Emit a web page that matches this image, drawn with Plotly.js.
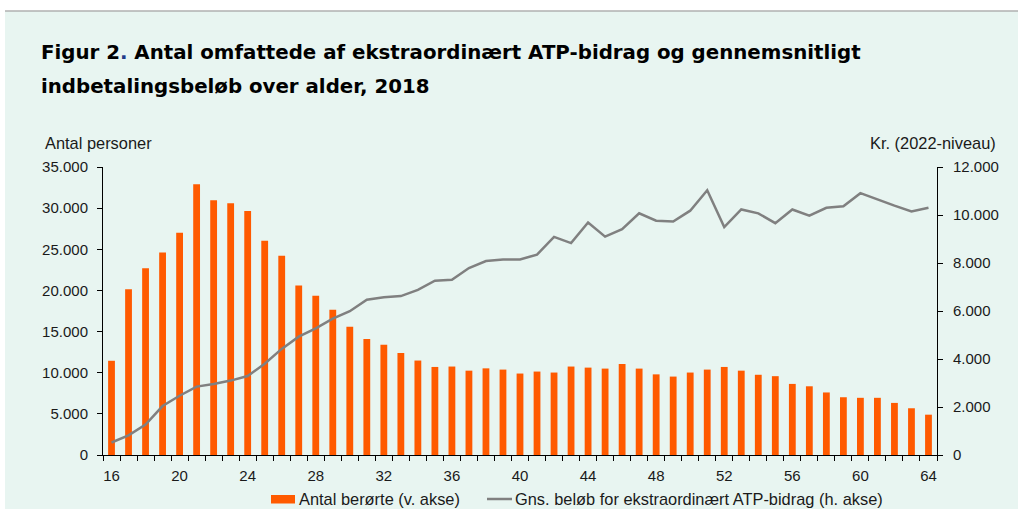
<!DOCTYPE html>
<html><head><meta charset="utf-8">
<script src="https://cdn.plot.ly/plotly-3.0.1.min.js"></script>
<style>body{margin:0;padding:0;background:#fff}#chart{width:1018px;height:509px}</style>
</head><body><div id="chart"></div>
<script>
const ages = [16,17,18,19,20,21,22,23,24,25,26,27,28,29,30,31,32,33,34,35,36,37,38,39,40,41,42,43,44,45,46,47,48,49,50,51,52,53,54,55,56,57,58,59,60,61,62,63,64];
const antalBeroerte = [11450,20150,22700,24600,27000,32900,30950,30600,29650,26050,24200,20600,19350,17650,15600,14100,13400,12400,11480,10700,10750,10250,10530,10380,9900,10140,10020,10750,10620,10500,11060,10500,9800,9530,10020,10380,10700,10250,9750,9580,8640,8350,7600,7020,6950,6950,6330,5680,4900];
const gnsBeloeb = [520,820,1270,2040,2470,2850,2960,3100,3290,3800,4420,4930,5280,5680,5990,6470,6570,6620,6880,7260,7300,7790,8080,8150,8150,8350,9090,8830,9690,9100,9410,10070,9760,9730,10180,11030,9500,10230,10070,9660,10230,9970,10300,10360,10910,10640,10390,10150,10300];
const xTicks = [16,20,24,28,32,36,40,44,48,52,56,60,64];
const leftTicks = [0,5000,10000,15000,20000,25000,30000,35000];
const rightTicks = [0,2000,4000,6000,8000,10000,12000];
const seriesNames = ['Antal berørte (v. akse)', 'Gns. beløb for ekstraordinært ATP-bidrag (h. akse)'];

const W=1018,H=509,L=103,R=81,T=167,B=54;
const pw=W-L-R, ph=H-T-B;
const px = x => (x-L)/pw;
const py = y => (H-B-y)/ph;
const font = 'Liberation Sans, Arial, sans-serif';
const orange = '#FF5A00', gray = '#808080';

const traces = [
  {type:'bar', x:ages, y:antalBeroerte, name:seriesNames[0], marker:{color:orange}, width:0.4, yaxis:'y', showlegend:false},
  {type:'scatter', mode:'lines', x:ages, y:gnsBeloeb, name:seriesNames[1], line:{color:gray, width:2.5}, yaxis:'y2', showlegend:false}
];

const layout = {
  width:W, height:H,
  margin:{l:L,r:R,t:T,b:B,pad:0,autoexpand:false},
  paper_bgcolor:'#ffffff', plot_bgcolor:'rgba(0,0,0,0)',
  separators:',.',
  font:{family:font, size:15, color:'#1a1a1a'},
  showlegend:false,
  xaxis:{range:[15.5,64.5], tickmode:'array', tickvals:xTicks, ticks:'', showgrid:false, zeroline:false,
         showline:true, linecolor:'#000', linewidth:1, tickfont:{size:15}, ticklabelstandoff:7,
         minor:{tickmode:'linear', tick0:15.5, dtick:1, ticks:'outside', ticklen:5, tickcolor:'#000', tickwidth:1, showgrid:false}},
  yaxis:{range:[0,35000], tickmode:'array', tickvals:leftTicks, tickformat:',.0f', ticks:'outside', ticklen:5, tickcolor:'#000',
         showgrid:false, zeroline:false, showline:true, linecolor:'#000', linewidth:1, tickfont:{size:15}, ticklabelstandoff:6},
  yaxis2:{range:[0,12000], overlaying:'y', side:'right', tickmode:'array', tickvals:rightTicks, tickformat:',.0f', ticks:'outside', ticklen:5, tickcolor:'#000',
         showgrid:false, zeroline:false, showline:true, linecolor:'#000', linewidth:1, tickfont:{size:15}, ticklabelstandoff:7},
  shapes:[
    {type:'rect', xref:'paper', yref:'paper', x0:px(5), x1:px(1030), y0:py(520), y1:py(11), fillcolor:'#E8F5F1', line:{width:0}, layer:'below'},
    {type:'line', xref:'paper', yref:'paper', x0:px(5), x1:px(1030), y0:py(11), y1:py(11), line:{color:'#b0b0b0', width:1.5}, layer:'below'},
    {type:'rect', xref:'paper', yref:'paper', x0:px(271), x1:px(295), y0:py(503.5), y1:py(495), fillcolor:orange, line:{width:0}},
    {type:'line', xref:'paper', yref:'paper', x0:px(487), x1:px(512), y0:py(499), y1:py(499), line:{color:gray, width:2.5}}
  ],
  annotations:[
    {xref:'paper', yref:'paper', x:px(39), y:py(52), xanchor:'left', yanchor:'middle', showarrow:false,
     text:'<b>Figur 2<span style="color:#1F3C88">.</span> Antal omfattede af ekstraordinært ATP-bidrag og gennemsnitligt</b>',
     font:{family:'DejaVu Sans, Verdana, sans-serif', size:19.8, color:'#000'}},
    {xref:'paper', yref:'paper', x:px(39), y:py(86), xanchor:'left', yanchor:'middle', showarrow:false,
     text:'<b>indbetalingsbeløb over alder, 2018</b>',
     font:{family:'DejaVu Sans, Verdana, sans-serif', size:19.8, color:'#000'}},
    {xref:'paper', yref:'paper', x:px(43), y:py(143), xanchor:'left', yanchor:'middle', showarrow:false,
     text:'Antal personer', font:{size:16.4}},
    {xref:'paper', yref:'paper', x:px(998), y:py(143), xanchor:'right', yanchor:'middle', showarrow:false,
     text:'Kr. (2022-niveau)', font:{size:16.4}},
    {xref:'paper', yref:'paper', x:px(297), y:py(499), xanchor:'left', yanchor:'middle', showarrow:false,
     text:seriesNames[0], font:{size:16.4}},
    {xref:'paper', yref:'paper', x:px(513), y:py(499), xanchor:'left', yanchor:'middle', showarrow:false,
     text:seriesNames[1], font:{size:16.4}}
  ]
};

Plotly.newPlot('chart', traces, layout, {displayModeBar:false, staticPlot:true});
</script></body></html>
